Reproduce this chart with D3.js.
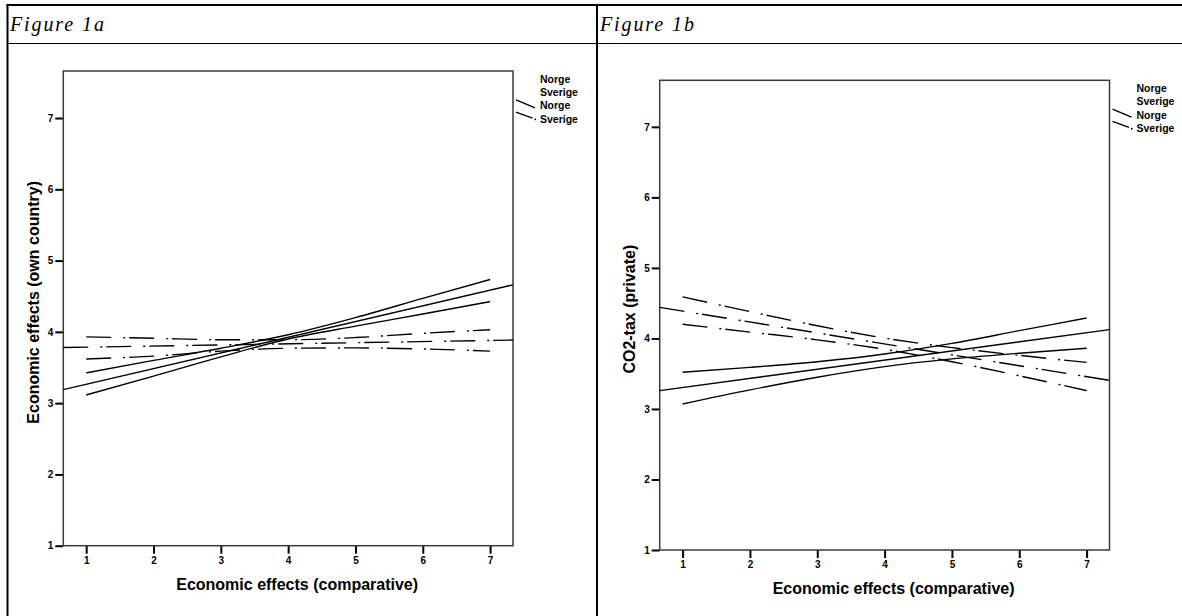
<!DOCTYPE html>
<html><head><meta charset="utf-8">
<script src="https://cdn.jsdelivr.net/npm/d3@7"></script>
<style>
html,body{margin:0;padding:0;background:#fff;}
svg{display:block;}
</style></head><body>
<svg id="c" width="1182" height="616"></svg>
<script>
// ---------- data ----------
const panelTitles = ["Figure 1a", "Figure 1b"];
const yTitles = ["Economic effects (own country)", "CO2-tax (private)"];
const xTitle = "Economic effects (comparative)";
const xTicks = [1, 2, 3, 4, 5, 6, 7];
const yTicks = [1, 2, 3, 4, 5, 6, 7];
const legendLabels = ["Norge", "Sverige", "Norge", "Sverige"];
const xDomain = [0.66, 7.34];
const yDomain = [1, 7.66];
const xBand = [1, 2, 3, 4, 5, 6, 7];      // x where the confidence lines are read
const xFit = [0.66, 7.34];                // fit lines run across the whole frame

// Figure 1a
const aNorgeFit = [3.19, 4.66];
const aNorgeUpper = [3.425, 3.60, 3.77, 3.96, 4.20, 4.47, 4.735];
const aNorgeLower = [3.115, 3.38, 3.65, 3.90, 4.08, 4.25, 4.425];
const aSverigeFit = [3.78, 3.885];
const aSverigeUpper = [3.93, 3.91, 3.89, 3.89, 3.92, 3.98, 4.03];
const aSverigeLower = [3.62, 3.66, 3.73, 3.77, 3.775, 3.76, 3.73];

// Figure 1b
const bNorgeFit = [3.26, 4.125];
const bNorgeUpper = [3.52, 3.59, 3.67, 3.78, 3.93, 4.11, 4.29];
const bNorgeLower = [3.07, 3.27, 3.45, 3.60, 3.71, 3.79, 3.86];
const bSverigeFit = [4.44, 3.405];
const bSverigeUpper = [4.59, 4.38, 4.18, 4.005, 3.87, 3.76, 3.66];
const bSverigeLower = [4.20, 4.09, 3.98, 3.845, 3.67, 3.47, 3.26];

// ---------- layout ----------
const svg = d3.select("#c");
const SANS = "'Liberation Sans', Arial, Helvetica, sans-serif";
const DASHDOT = "25,12,2,4";

// table frame
const frame = svg.append("g").attr("stroke", "#000").attr("fill", "none");
frame.append("line").attr("x1", 6.5).attr("x2", 1182).attr("y1", 5).attr("y2", 5).attr("stroke-width", 2);
frame.append("line").attr("x1", 7.5).attr("x2", 7.5).attr("y1", 4).attr("y2", 616).attr("stroke-width", 2);
frame.append("line").attr("x1", 597).attr("x2", 597).attr("y1", 4).attr("y2", 616).attr("stroke-width", 2);
frame.append("line").attr("x1", 7).attr("x2", 1182).attr("y1", 43.5).attr("y2", 43.5).attr("stroke-width", 1);

const panels = [
  { title: panelTitles[0], titleX: 10, L: 63.3, R: 513, T: 71, B: 545.7, yTitle: yTitles[0], yTitleX: 33,
    norge: { fit: aNorgeFit, up: aNorgeUpper, lo: aNorgeLower },
    sverige: { fit: aSverigeFit, up: aSverigeUpper, lo: aSverigeLower } },
  { title: panelTitles[1], titleX: 600, L: 659.7, R: 1109.5, T: 80.3, B: 550, yTitle: yTitles[1], yTitleX: 629,
    norge: { fit: bNorgeFit, up: bNorgeUpper, lo: bNorgeLower },
    sverige: { fit: bSverigeFit, up: bSverigeUpper, lo: bSverigeLower } }
];

panels.forEach(p => {
  svg.append("text").attr("x", p.titleX).attr("y", 31)
    .attr("font-family", "'Liberation Serif', 'DejaVu Serif', serif")
    .attr("font-style", "italic").attr("font-size", 20).attr("letter-spacing", 1.9)
    .attr("fill", "#000").text(p.title);

  const x = d3.scaleLinear().domain(xDomain).range([p.L, p.R]);
  const y = d3.scaleLinear().domain(yDomain).range([p.B, p.T]);
  const g = svg.append("g");

  // y axis
  const ya = g.append("g").attr("transform", `translate(${p.L},0)`)
    .call(d3.axisLeft(y).tickValues(yTicks).tickSize(8).tickPadding(2).tickFormat(d3.format("d")));
  ya.select(".domain").remove();
  ya.selectAll(".tick line").attr("stroke", "#000").attr("stroke-width", 2);
  ya.selectAll(".tick text").attr("font-family", SANS).attr("font-weight", "bold")
    .attr("font-size", 10).attr("fill", "#000");

  // x axis
  const xa = g.append("g").attr("transform", `translate(0,${p.B})`)
    .call(d3.axisBottom(x).tickValues(xTicks).tickSize(8).tickPadding(3).tickFormat(d3.format("d")));
  xa.select(".domain").remove();
  xa.selectAll(".tick line").attr("stroke", "#000").attr("stroke-width", 2);
  xa.selectAll(".tick text").attr("font-family", SANS).attr("font-weight", "bold")
    .attr("font-size", 10).attr("fill", "#000");

  // plot frame
  g.append("rect").attr("x", p.L).attr("y", p.T).attr("width", p.R - p.L).attr("height", p.B - p.T)
    .attr("fill", "none").attr("stroke", "#3a3a3a").attr("stroke-width", 1.5);

  // axis titles
  g.append("text").attr("x", (p.L + p.R) / 2 + 9).attr("y", p.B + 44)
    .attr("text-anchor", "middle").attr("font-family", SANS).attr("font-weight", "bold")
    .attr("font-size", 16).attr("fill", "#000").text(xTitle);
  g.append("text").attr("transform", `translate(${p.yTitleX},${(p.T + p.B) / 2 - 6}) rotate(-90)`)
    .attr("text-anchor", "middle").attr("dy", "0.35em").attr("font-family", SANS).attr("font-weight", "bold")
    .attr("font-size", 16).attr("fill", "#000").text(p.yTitle);

  // lines
  const band = d3.line().x((d, i) => x(xBand[i])).y(d => y(d)).curve(d3.curveMonotoneX);
  const fit = d3.line().x((d, i) => x(xFit[i])).y(d => y(d));
  const lg = g.append("g").attr("fill", "none").attr("stroke", "#000").attr("stroke-width", 1.4);
  [[p.norge, null], [p.sverige, DASHDOT]].forEach(([s, dash]) => {
    [s.up, s.lo].forEach(arr => {
      lg.append("path").attr("d", band(arr)).attr("stroke-dasharray", dash);
    });
    lg.append("path").attr("d", fit(s.fit)).attr("stroke-dasharray", dash);
  });

  // legend
  const tx = p.R + 27, ty0 = p.T + 8.2, dy = 13.3;
  legendLabels.forEach((lab, i) => {
    g.append("text").attr("x", tx).attr("y", ty0 + i * dy).attr("dy", "0.35em")
      .attr("font-family", SANS).attr("font-weight", "bold").attr("font-size", 10.5)
      .attr("fill", "#000").text(lab);
  });
  const c3 = ty0 + 2 * dy, c4 = ty0 + 3 * dy;
  g.append("line").attr("x1", tx - 24).attr("y1", c3 - 6).attr("x2", tx - 5).attr("y2", c3 + 2)
    .attr("stroke", "#000").attr("stroke-width", 1.4);
  g.append("line").attr("x1", tx - 24).attr("y1", c4 - 7).attr("x2", tx - 7.5).attr("y2", c4 - 1)
    .attr("stroke", "#000").attr("stroke-width", 1.4);
  g.append("rect").attr("x", tx - 5.5).attr("y", c4 - 0.5).attr("width", 1.6).attr("height", 1.6).attr("fill", "#000");
});
</script>
</body></html>
